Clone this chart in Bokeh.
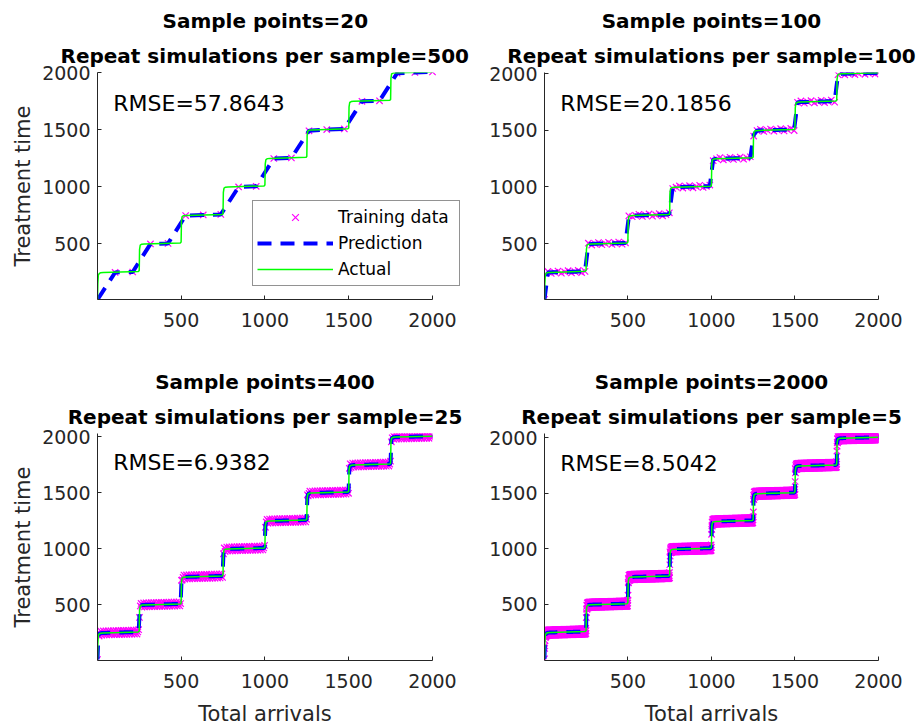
import numpy as np
from bokeh.plotting import figure
from bokeh.models import Title, Label, FixedTicker, Legend, LegendItem, Range1d
from bokeh.layouts import column, row
from bokeh.embed import file_html
from bokeh.resources import INLINE

# ---------------- data ----------------
SAMPLE_POINTS = [20, 100, 400, 2000]
REPEATS = [500, 100, 25, 5]
RMSE = ["57.8643", "20.1856", "6.9382", "8.5042"]

# "Actual" staircase curve vertices
ACTUAL_X = [1, 3, 6, 12, 20, 35,
            245, 250, 252, 256, 265, 280,
            495, 500, 502, 506, 515, 530,
            745, 750, 752, 756, 765, 780,
            995, 1000, 1002, 1006, 1015, 1030,
            1245, 1250, 1252, 1256, 1265, 1280,
            1495, 1500, 1502, 1506, 1515, 1530,
            1745, 1750, 1752, 1756, 1765, 1780,
            2000]
ACTUAL_Y = [10, 150, 225, 240, 245, 247,
            256, 265, 450, 488, 496, 498,
            507, 515, 700, 738, 746, 748,
            757, 765, 950, 988, 996, 998,
            1007, 1015, 1200, 1238, 1246, 1248,
            1257, 1265, 1450, 1488, 1496, 1498,
            1507, 1515, 1700, 1738, 1746, 1748,
            1757, 1765, 1950, 1988, 1996, 1998,
            2006]

# panel 1: 20 training points (and the prediction through them)
P1_X = [1, 106, 211, 317, 422, 527, 632, 737, 843, 948,
        1053, 1158, 1263, 1369, 1474, 1579, 1684, 1789, 1895, 2000]
P1_Y = [10, 248, 252, 498, 503, 747, 752, 757, 998, 1003,
        1247, 1252, 1490, 1501, 1506, 1748, 1753, 1995, 2001, 2006]

# half thickness of the scatter band of the training data per panel
BAND = [0, 10, 18, 24]

X_TICKS = [500, 1000, 1500, 2000]
Y_TICKS = [500, 1000, 1500, 2000]
X_LIMITS = (1, 2000)
Y_LIMITS = [(11, 2001), (8, 2009), (1, 2030), (-5, 2040)]
RMSE_POS = [(95, 1730), (95, 1736), (95, 1771), (95, 1768)]

FONT = "DejaVu Sans"
AX = "#262626"


def panel(i, bl, br, bt, bb, fw, ylab, xlab, legend, fw_ext=None, title_left=None):
    fw_ext = fw_ext or fw
    # extra room on the right of panel 1 so the legend box is not clipped
    x_end = X_LIMITS[1] + (fw_ext - fw) / fw * (X_LIMITS[1] - X_LIMITS[0])
    p = figure(frame_width=fw_ext, frame_height=227,
               min_border_left=bl, min_border_right=br,
               min_border_top=bt, min_border_bottom=bb,
               x_range=Range1d(X_LIMITS[0], x_end), y_range=Range1d(*Y_LIMITS[i]),
               output_backend="svg", toolbar_location=None, title=None,
               background_fill_color="white", border_fill_color="white")
    p.outline_line_color = None
    p.xgrid.visible = False
    p.ygrid.visible = False
    for ax, ticks in ((p.xaxis, X_TICKS), (p.yaxis, Y_TICKS)):
        ax.ticker = FixedTicker(ticks=ticks)
        ax.axis_line_color = AX
        ax.axis_line_width = 1
        ax.major_tick_line_color = AX
        ax.major_tick_in = 4
        ax.major_tick_out = 0
        ax.minor_tick_line_color = None
        ax.major_label_text_font = FONT
        ax.major_label_text_font_size = "19px"
        ax.major_label_text_color = AX
        ax.axis_label_text_font = FONT
        ax.axis_label_text_font_size = "21px"
        ax.axis_label_text_font_style = "normal"
        ax.axis_label_text_color = AX
    p.xaxis.bounds = X_LIMITS
    p.xaxis.major_label_standoff = 13
    p.yaxis.major_label_standoff = 7
    p.yaxis.axis_label_standoff = 4
    p.xaxis.axis_label_standoff = 11
    if ylab:
        p.yaxis.axis_label = "Treatment time"
    if xlab:
        p.xaxis.axis_label = "Total arrivals"

    n = SAMPLE_POINTS[i]
    if i == 0:
        tx, ty = np.array(P1_X, float), np.array(P1_Y, float)
        px, py = tx, ty
    else:
        tx = np.linspace(X_LIMITS[0], X_LIMITS[1], n)
        base = np.interp(tx, ACTUAL_X, ACTUAL_Y)
        ty = base + np.resize(np.array([0.0, 1.0, -1.0]), n) * BAND[i]
        px, py = tx, base

    r_t = p.scatter(tx, ty, marker="x", size=9, line_color="#ff00ff", line_width=1.2)
    r_p = p.line(px, py, line_color="#0000ff", line_width=4, line_dash="14 9")
    r_a = p.line(ACTUAL_X, ACTUAL_Y, line_color="#00ff00", line_width=1.5)

    p.add_layout(Label(x=RMSE_POS[i][0], y=RMSE_POS[i][1], text="RMSE=" + RMSE[i],
                       text_font=FONT, text_font_size="22px", text_color="black",
                       text_baseline="alphabetic", text_align="left"))

    if legend:
        leg = Legend(items=[LegendItem(label="Training data", renderers=[r_t]),
                            LegendItem(label="Prediction", renderers=[r_p]),
                            LegendItem(label="Actual", renderers=[r_a])],
                     location=(155, 13), margin=0, padding=4, spacing=2,
                     glyph_width=76, glyph_height=24, label_height=24,
                     label_width=117, label_standoff=5,
                     label_text_font=FONT, label_text_font_size="17px",
                     label_text_color="black",
                     border_line_color=AX, border_line_width=1,
                     background_fill_color="white", background_fill_alpha=1)
        p.add_layout(leg)

    lines = [f"Repeat simulations per sample={REPEATS[i]}", f"Sample points={SAMPLE_POINTS[i]}"]
    standoffs = [10, 8]
    for k, (txt, so) in enumerate(zip(lines, standoffs)):
        if title_left is None:
            t = Title(text=txt, align="center", standoff=so)
        else:
            t = Title(text=txt, align="left", offset=title_left[k], standoff=so)
        t.text_font = FONT
        t.text_font_size = "20px"
        t.text_font_style = "bold"
        t.text_color = "black"
        p.add_layout(t, "above")
    return p


p1 = panel(0, 97, 18, 72, 61, 335, True, False, True, fw_ext=363, title_left=[-37, 65])
p2 = panel(1, 66, 38, 72, 61, 334, False, False, False)
p3 = panel(2, 97, 46, 73, 67, 335, True, True, False)
p4 = panel(3, 66, 38, 73, 67, 334, False, True, False)

layout = column(row(p1, p2), row(p3, p4))
open("out.html", "w").write(file_html(layout, INLINE))
